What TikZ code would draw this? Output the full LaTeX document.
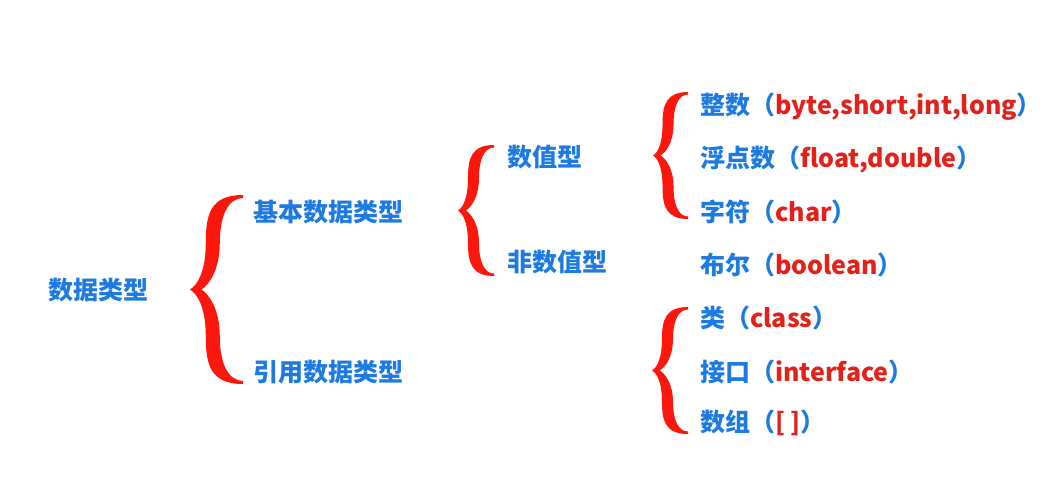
\documentclass[tikz,border=0pt]{standalone}
\usepackage{fontspec}
\setmainfont{Noto Sans CJK SC}
\definecolor{tblue}{RGB}{28,122,226}
\definecolor{tred}{RGB}{226,34,26}
\definecolor{bred}{RGB}{252,22,12}
\newcommand\bracefill[5]{% xtip, xright, ytop, ybot, half thickness
  \pgfmathsetmacro\BrM{(#3+#4)/2}%
  \pgfmathsetmacro\BrA{#1+0.43*(#2-#1)}%
  \pgfmathsetmacro\BrHa{\BrM-#3}%
  \pgfmathsetmacro\BrHb{\BrM-#4}%
  \pgfmathsetmacro\BrEa{0.45*#5}%
  \pgfmathsetmacro\BrEb{-0.45*#5}%
  \pgfmathsetmacro\BrT{#1+0.35*(\BrA-#1)}%
  \pgfmathsetmacro\BrN{#1+0.5*(\BrA-#1)}%
  \pgfmathsetmacro\BrNc{\BrN+0.4*(\BrA+#5-\BrN)}%
  \pgfmathsetmacro\BrQ{\BrA+#5+0.3*(#2-\BrA-#5)}%
  \fill[bred]
    (#2,#3) .. controls (\BrA-0.3*#5,#3) and (\BrA-#5,#3+0.2*\BrHa) .. (\BrA-#5,#3+0.5*\BrHa)
    .. controls (\BrA-#5,#3+0.8*\BrHa) and (\BrT,#3+0.95*\BrHa) .. (#1,\BrM)
    -- (\BrN,\BrM)
    .. controls (\BrNc,#3+0.95*\BrHa) and (\BrA+#5,#3+0.8*\BrHa) .. (\BrA+#5,#3+0.5*\BrHa)
    .. controls (\BrA+#5,#3+0.25*\BrHa) and (\BrQ,#3+\BrEa) .. (#2,#3+\BrEa) -- cycle
    (#2,#4) .. controls (\BrA-0.3*#5,#4) and (\BrA-#5,#4+0.2*\BrHb) .. (\BrA-#5,#4+0.5*\BrHb)
    .. controls (\BrA-#5,#4+0.8*\BrHb) and (\BrT,#4+0.95*\BrHb) .. (#1,\BrM)
    -- (\BrN,\BrM)
    .. controls (\BrNc,#4+0.95*\BrHb) and (\BrA+#5,#4+0.8*\BrHb) .. (\BrA+#5,#4+0.5*\BrHb)
    .. controls (\BrA+#5,#4+0.25*\BrHb) and (\BrQ,#4+\BrEb) .. (#2,#4+\BrEb) -- cycle;%
}
\newcommand\en[1]{\textcolor{tred}{#1}}
\begin{document}
\begin{tikzpicture}[x=1pt,y=-1pt,
  lbl/.style={anchor=base west,inner sep=0pt,text=tblue,font=\fontsize{25}{30}\selectfont\bfseries}]
\useasboundingbox (0,0) rectangle (1061,479);
\fill[white] (0,0) rectangle (1061,479);
% braces
\bracefill{190}{243}{195}{384}{7}
\bracefill{458}{494}{145}{276}{5.5}
\bracefill{653}{688}{92}{219}{5.5}
\bracefill{652}{688}{307}{434}{5.5}
% labels
\node[lbl] (root) at (48,299) {数据类型};
\node[lbl] (basic) at (253,221) {基本数据类型};
\node[lbl] (ref) at (253,381) {引用数据类型};
\node[lbl] (num) at (507,166) {数值型};
\node[lbl] (nonnum) at (507,271) {非数值型};
\node[lbl] (int) at (700,114) {整数（\en{byte,short,int,long}）};
\node[lbl] (float) at (700,167) {浮点数（\en{float,double}）};
\node[lbl] (char) at (700,221) {字符（\en{char}）};
\node[lbl] (bool) at (700,274) {布尔（\en{boolean}）};
\node[lbl] (class) at (700,327) {类（\en{class}）};
\node[lbl] (iface) at (700,381) {接口（\en{interface}）};
\node[lbl] (arr) at (700,431) {数组（\en{[ ]}）};
\end{tikzpicture}
\end{document}
